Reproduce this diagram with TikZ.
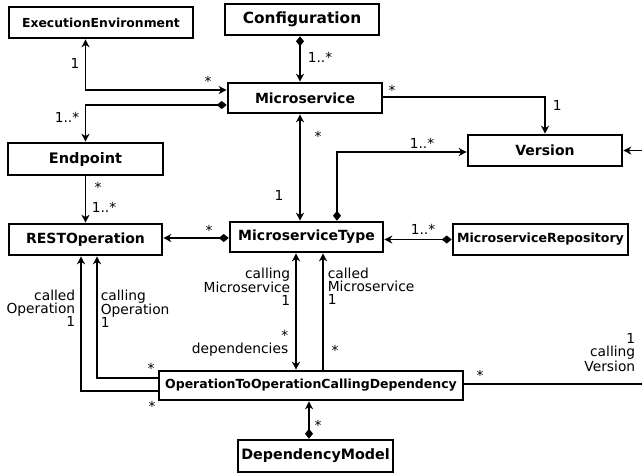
\documentclass[tikz,border=0pt]{standalone}
\usepackage{fontspec}
\setmainfont{DejaVu Sans}
\usetikzlibrary{arrows.meta, calc}

\tikzset{
	clsfont/.style={font=\fontsize{#1}{#1}\selectfont\bfseries},
	cls/.style={draw, line width=2.6pt, inner sep=0pt, clsfont=14},
	mult/.style={inner sep=0pt, font=\fontsize{13.8}{13}\selectfont},
	comp/.style={{Diamond[length=10pt,width=8pt]}-{Stealth[length=8pt,width=8pt,inset=2.5pt]}}
}

\begin{document}
\begin{tikzpicture}[x=1pt, y=-1pt, >={Stealth[length=8pt,width=8pt,inset=2.5pt]},
	line width=1.6pt, line cap=butt, line join=miter]
	
	\useasboundingbox (0,0) rectangle (642,475);
	
	%========================
	% classes
	%========================
	\node[cls, clsfont=12.4, minimum width=184pt, minimum height=31pt] (exec) at (101,22.5) {ExecutionEnvironment};
	\node[cls, clsfont=15.4, minimum width=154pt, minimum height=31pt] (config) at (302,19.5) {Configuration};
	\node[cls, minimum width=154pt, minimum height=30pt] (ms) at (305,98) {Microservice};
	\node[cls, minimum width=154pt, minimum height=31pt] (version) at (545,150.5) {Version};
	\node[cls, clsfont=14.5, minimum width=155pt, minimum height=32pt] (endpoint) at (85.5,159) {Endpoint};
	\node[cls, minimum width=153pt, minimum height=31pt] (rest) at (85.5,239.5) {RESTOperation};
	\node[cls, minimum width=153pt, minimum height=30pt] (mstype) at (306.5,237) {MicroserviceType};
	\node[cls, clsfont=12.6, minimum width=175pt, minimum height=31pt] (repo) at (540.5,239.5) {MicroserviceRepository};
	\node[cls, clsfont=12.5, minimum width=304pt, minimum height=29pt] (optoop) at (311,385.5) {OperationToOperationCallingDependency};
	\node[cls, clsfont=14.3, minimum width=155pt, minimum height=32pt] (depmodel) at (315.5,456) {DependencyModel};
	
	% helper coordinates for the vertical lines
	\coordinate (vx) at (300,0);
	\coordinate (callx) at (296,0);
	\coordinate (calledx) at (323,0);
	\coordinate (right) at (642,0);
	
	%========================
	% associations
	%========================
	\draw[<->] ([xshift=-15.5pt]exec.south) |- ([yshift=8pt]ms.west);
	\draw[comp] ([yshift=-7pt]ms.west) -| (endpoint.north);
	\draw[comp] (config.south -| vx) -- (ms.north -| vx);
	\draw[->] ([yshift=1pt]ms.east) -| (version.north);
	\draw[comp] (mstype.north -| 337,0) |- ([yshift=-1.5pt]version.west);
	\draw[->] (version.east -| right) -- (version.east);
	\draw[<->] (ms.south -| vx) -- (mstype.north -| vx);
	\draw[->] (endpoint.south) -- (rest.north);
	\draw[comp] ([yshift=-1pt]mstype.west) -- ([yshift=-1pt]mstype.west -| rest.east);
	\draw[comp] (repo.west) -- (repo.west -| mstype.east);
	\draw[<->] (mstype.south -| callx) -- (optoop.north -| callx);
	\draw[->] (optoop.north -| calledx) -- (mstype.south -| calledx);
	\draw[->] ([yshift=7.5pt]optoop.west) -| (rest.south -| 97,0);
	\draw[->] ([yshift=-5.5pt]optoop.west) -| (rest.south -| 81,0);
	\draw ([yshift=1.5pt]optoop.east) -- ([yshift=1.5pt]optoop.east -| right);
	\draw[comp] (depmodel.north -| 309,0) -- (optoop.south -| 309,0);
	
	%========================
	% multiplicities and roles
	%========================
	\node[mult, anchor=base] at (75,68) {1};
	\node[mult, anchor=base] at (208,86) {*};
	\node[mult, anchor=base] at (67,122) {1..*};
	\node[mult, anchor=base west] at (307,62) {1..*};
	\node[mult, anchor=base] at (392,95) {*};
	\node[mult, anchor=base west] at (552,110) {1};
	\node[mult, anchor=base] at (422,148) {1..*};
	\node[mult, anchor=base] at (318,141) {*};
	\node[mult, anchor=base] at (279,200) {1};
	\node[mult, anchor=base] at (98,192) {*};
	\node[mult, anchor=base west] at (91,212) {1..*};
	\node[mult, anchor=base] at (209,235) {*};
	\node[mult, anchor=base] at (423,234) {1..*};
	\node[mult, anchor=north east, align=right] at (291,267) {calling\\Microservice\\1};
	\node[mult, anchor=north west, align=left] at (327,267) {called\\Microservice\\1};
	\node[mult, anchor=north east, align=right] at (289,329) {*\\dependencies};
	\node[mult, anchor=base] at (335,355) {*};
	\node[mult, anchor=north east, align=right] at (76,289) {called\\Operation\\1};
	\node[mult, anchor=north west, align=left] at (100,289) {calling\\Operation\\1};
	\node[mult, anchor=base] at (151,373) {*};
	\node[mult, anchor=base] at (152,411) {*};
	\node[mult, anchor=base] at (480,380) {*};
	\node[mult, anchor=north east, align=right] at (636,333) {1\\calling\\Version};
	\node[mult, anchor=base] at (318,430) {*};
	
\end{tikzpicture}
\end{document}
